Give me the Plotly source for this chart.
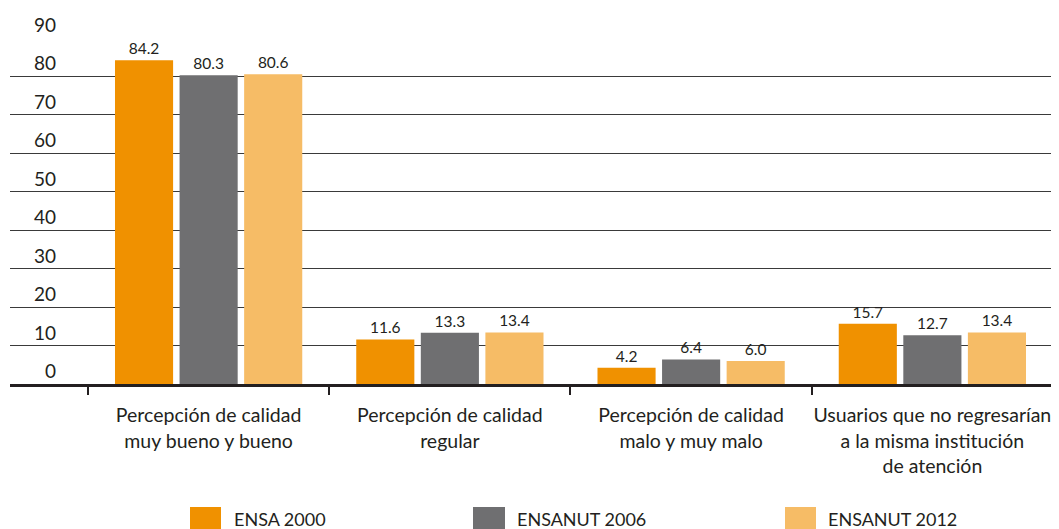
import plotly.graph_objects as go

categories = [
    "Percepción de calidad<br>muy bueno y bueno",
    "Percepción de calidad<br>regular",
    "Percepción de calidad<br>malo y muy malo",
    "Usuarios que no regresarían<br>a la misma institución<br>de atención",
]
series_names = ["ENSA 2000", "ENSANUT 2006", "ENSANUT 2012"]
ensa_2000 = [84.2, 11.6, 4.2, 15.7]
ensanut_2006 = [80.3, 13.3, 6.4, 12.7]
ensanut_2012 = [80.6, 13.4, 6.0, 13.4]
y_ticks = [0, 10, 20, 30, 40, 50, 60, 70, 80, 90]

colors = ["#F09100", "#6F6F71", "#F6BC66"]
txt = "#231F20"
FONT = "Lato"

OFF = 8  # default body margin of the page
W, H = 1059 - OFF, 529 - OFF
ML, MR, MT, MB = 10 - OFF, 0, 38 - OFF, 529 - 384
PW = W - ML - MR
PH = H - MT - MB

fig = go.Figure()
for name, vals, c in zip(series_names, [ensa_2000, ensanut_2006, ensanut_2012], colors):
    fig.add_trace(go.Bar(
        x=categories, y=vals, name=name, marker_color=c, marker_line_width=0,
        text=[f"{v:.1f}" for v in vals], textposition="outside",
        textfont=dict(family=FONT, size=15.5, color=txt), cliponaxis=False,
        showlegend=False,
    ))

def px2x(p):
    return (p - OFF - ML) / PW

def px2y(p):
    return (H - MB - (p - OFF)) / PH

annotations = []
for v in y_ticks:
    annotations.append(dict(
        xref="paper", yref="y", x=px2x(58), y=v, xanchor="right", yanchor="bottom",
        yshift=0, text=str(v), showarrow=False,
        font=dict(family=FONT, size=19, color=txt),
    ))

shapes = []
legend_pos = [(190, 221, 232), (473, 505, 515), (785, 816, 826)]
for (x0, x1, xt), name, c in zip(legend_pos, series_names, colors):
    shapes.append(dict(type="rect", xref="paper", yref="paper",
                       x0=px2x(x0), x1=px2x(x1), y0=px2y(507), y1=px2y(532),
                       fillcolor=c, line_width=0))
    annotations.append(dict(
        xref="paper", yref="paper", x=px2x(xt), y=px2y(519), xanchor="left", yanchor="middle",
        text=name, showarrow=False, font=dict(family=FONT, size=18, color=txt),
    ))

fig.update_layout(
    width=W, height=H,
    margin=dict(l=ML, r=MR, t=MT, b=MB, autoexpand=False),
    paper_bgcolor="white", plot_bgcolor="white",
    barmode="group", bargap=0.197, bargroupgap=0.1,
    annotations=annotations, shapes=shapes,
    showlegend=False,
)
fig.update_xaxes(
    type="category", range=[-0.8233, 3.5249], automargin=False, tickangle=0,
    tickson="boundaries", ticks="outside", ticklen=8, tickwidth=1.5, tickcolor=txt,
    ticklabelstandoff=12,
    showline=True, linecolor=txt, linewidth=2.5, showgrid=False,
    tickfont=dict(family=FONT, size=19.5, color=txt),
)
fig.update_yaxes(
    range=[0, 90], tickvals=y_ticks, showticklabels=False, automargin=False,
    showgrid=True, gridcolor="#3a3a3a", gridwidth=1, zeroline=False,
)

fig.write_html("out.html")
